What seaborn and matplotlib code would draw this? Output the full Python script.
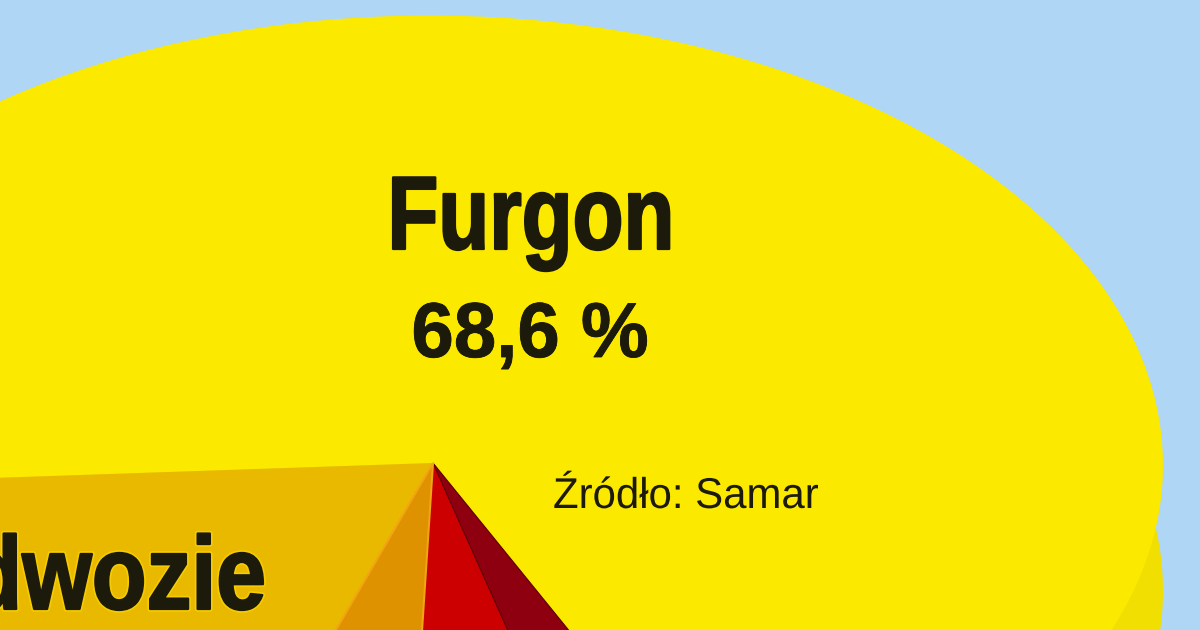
import matplotlib
matplotlib.use("Agg")
import matplotlib.pyplot as plt
import matplotlib.patheffects as pe
from matplotlib.colors import to_rgba
from matplotlib.transforms import Affine2D
import seaborn as sns

categories = ["Furgon", "Podwozie", "Inne A", "Inne B", "Inne C"]
shares = [68.6, 18.6, 4.8, 4.9, 3.1]
palette = ["#FCE900", "#E9B900", "#DE9200", "#CC0000", "#8E0010"]
rim_palette = ["#F0DF00"] * 5
furgon_label = "Furgon"
furgon_value = "68,6 %"
podwozie_label = "Podwozie"
source_label = "Źródło: Samar"

sns.set_theme(style="white")
FONT = ["Liberation Sans", "DejaVu Sans"]
INK = "#1C1A0A"
BG = "#AFD6F4"


class NarrowStroke(pe.AbstractPathEffect):
    """Condense a text about a pixel column (no narrow font is installed), with an
    optional outer halo and a thickening stroke in the text's own colour."""

    def __init__(self, x0, factor, bold=0.0, halo=None, halo_width=0.0):
        super().__init__()
        self.squeeze = Affine2D().translate(-x0, 0).scale(factor, 1).translate(x0, 0)
        self.bold = bold
        self.halo = to_rgba(halo) if halo else None
        self.halo_width = halo_width

    def _stroke(self, renderer, gc, tpath, affine, width, colour):
        g = renderer.new_gc()
        g.copy_properties(gc)
        g.set_linewidth(width)
        g.set_foreground(colour)
        renderer.draw_path(g, tpath, affine + self.squeeze, colour)
        g.restore()

    def draw_path(self, renderer, gc, tpath, affine, rgbFace=None):
        if self.halo is not None:
            self._stroke(renderer, gc, tpath, affine, self.halo_width, self.halo)
        if self.bold > 0:
            self._stroke(renderer, gc, tpath, affine, self.bold, tuple(rgbFace))
        renderer.draw_path(gc, tpath, affine + self.squeeze, rgbFace)


fig = plt.figure(figsize=(12, 6.3), dpi=100, facecolor=BG)
ax = fig.add_axes([0, 0, 1, 1], facecolor=BG)

rx, ry = 730.0, 447.5
shear = Affine2D.from_values(1, -0.003 * rx / ry, 0, 1, 0, 0)

rim, _ = ax.pie(shares, colors=rim_palette, startangle=-63.5,
                center=(0, -0.28), radius=1, wedgeprops=dict(linewidth=0))
top, _ = ax.pie(shares, colors=palette, startangle=-63.5,
                center=(0, 0), radius=1, wedgeprops=dict(linewidth=0))

ax.set_aspect("auto")
ax.set_xlim(-433 / rx, 767 / rx)
ax.set_ylim(-167 / ry, 463 / ry)
ax.set_axis_off()

for w in list(rim) + list(top):
    w.set_transform(shear + ax.transData)

top[2].set_edgecolor("#F2A414"); top[2].set_linewidth(1.5); top[2].set_zorder(5)
top[4].set_edgecolor("#5A0008"); top[4].set_linewidth(0.8); top[4].set_zorder(4)


def px(x, y):
    return x / 1200, 1 - y / 630


fig.text(*px(531, 249), furgon_label, family=FONT, weight="bold", fontsize=75,
         color=INK, ha="center", va="baseline",
         path_effects=[NarrowStroke(531, 0.80, bold=1.6)])
fig.text(*px(530, 357), furgon_value, family=FONT, weight="bold", fontsize=56,
         color=INK, ha="center", va="baseline",
         path_effects=[NarrowStroke(530, 0.98, bold=0.6)])
fig.text(*px(266, 609), podwozie_label, family=FONT, weight="bold", fontsize=75,
         color=INK, ha="right", va="baseline",
         path_effects=[NarrowStroke(265, 0.86, bold=1.6, halo="#F6CC00", halo_width=4)])
fig.text(*px(553, 508), source_label, family=FONT, fontsize=31,
         color=INK, ha="left", va="baseline",
         path_effects=[NarrowStroke(553, 0.974)])

fig.savefig("out.png", dpi=100, facecolor=BG)
